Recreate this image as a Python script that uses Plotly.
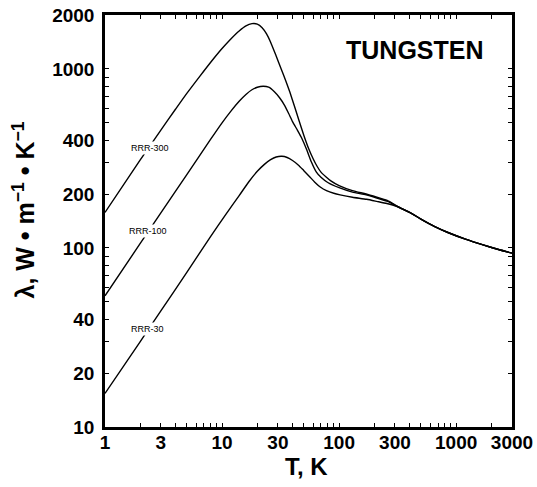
import plotly.graph_objects as go
import numpy as np

# Thermal conductivity of tungsten for three residual resistivity ratios
t_300 = [1, 2, 3, 4, 5, 6.5, 8, 10, 12, 14, 16, 18, 20, 22, 24, 26, 29, 32, 35, 38,
         41.5, 45, 50, 55, 60, 65, 70, 77, 85, 100, 130, 170, 210, 260, 310, 400, 500,
         650, 850, 1200, 1700, 2300, 3000]
k_300 = [158, 310, 455, 595, 730, 915, 1090, 1300, 1480, 1630, 1740, 1790, 1780, 1700,
         1570, 1410, 1180, 1000, 860, 740, 620, 525, 425, 358, 315, 285, 265, 250, 237,
         223, 209, 200, 192, 184, 172, 158, 145, 132, 122, 112, 104, 98, 93.5]

t_100 = [1, 2, 3, 5, 8, 10, 12, 14, 16, 18, 20, 22.5, 25, 28, 31, 34, 37, 40, 44, 48,
         53, 58, 64, 70, 80, 100, 130, 170, 210, 260, 310, 400, 500, 650, 850, 1200,
         1700, 2300, 3000]
k_100 = [54, 106, 157, 257, 405, 500, 585, 660, 720, 765, 790, 800, 790, 745, 690,
         630, 565, 508, 455, 410, 352, 302, 265, 248, 232, 217, 205, 198, 190, 182,
         171, 158, 145, 132, 122, 112, 104, 98, 93.5]

t_30 = [1, 2, 3, 5, 8, 11, 14, 17, 20, 23, 26, 29, 32.4, 36, 40, 45, 50, 56, 62, 69,
        78, 90, 102, 130, 172, 210, 256, 300, 340, 400, 500, 650, 850, 1200, 1700,
        2300, 3000]
k_30 = [15.4, 30, 44.5, 73, 116, 157, 196, 235, 268, 293, 311, 322, 325, 320, 308,
        290, 270, 250, 233, 219, 209, 202, 198, 192, 187, 182, 177, 172, 166, 158,
        145, 132, 122, 112, 104, 98, 93.5]

# name, T values, conductivity values, label position (T, conductivity)
series = [("RRR-300", t_300, k_300, 2.4, 362),
          ("RRR-100", t_100, k_100, 2.31, 125),
          ("RRR-30", t_30, k_30, 2.29, 35.3)]

x_labels = [1, 3, 10, 30, 100, 300, 1000, 3000]
y_labels = [10, 20, 40, 100, 200, 400, 1000, 2000]


def log_ticks(lo_exp, hi_exp, lo, hi, labelled):
    vals, text = [], []
    for e in range(lo_exp, hi_exp + 1):
        for d in range(1, 10):
            v = d * 10 ** e
            if lo <= v <= hi:
                vals.append(v)
                text.append(str(v) if v in labelled else "")
    return vals, text


xv, xt = log_ticks(0, 3, 1, 3000, x_labels)
yv, yt = log_ticks(1, 3, 10, 2000, y_labels)

FONT = "Liberation Sans, Arial, sans-serif"

fig = go.Figure()
for name, t, k, lx, ly in series:
    fig.add_trace(go.Scatter(x=t, y=k, mode="lines", name=name,
                             line=dict(color="black", width=1.4, shape="spline",
                                       smoothing=0.6)))
    fig.add_annotation(x=np.log10(lx), y=np.log10(ly), text=name, showarrow=False,
                       bgcolor="white", borderpad=1,
                       font=dict(family=FONT, size=9, color="black"))

fig.add_annotation(xref="paper", yref="paper", x=0.762, y=0.914, text="<b>TUNGSTEN</b>",
                   xanchor="center", yanchor="middle", showarrow=False,
                   font=dict(family=FONT, size=25, color="black"))

# axis titles
fig.add_annotation(xref="paper", yref="paper", x=-0.2, y=0.527,
                   text="<b>λ, W • m<sup>−1</sup> • K<sup>−1</sup></b>",
                   textangle=-90, xanchor="center", yanchor="middle", showarrow=False,
                   font=dict(family=FONT, size=25, color="black"))
fig.add_annotation(xref="paper", yref="paper", x=0.494, y=-0.095, text="<b>T, K</b>",
                   xanchor="center", yanchor="middle", showarrow=False,
                   font=dict(family=FONT, size=24, color="black"))

axis_common = dict(type="log", showgrid=False, zeroline=False, showline=True,
                   linecolor="black", linewidth=2.5, mirror="allticks",
                   ticks="inside", ticklen=4, tickwidth=1, tickcolor="black",
                   automargin=False,
                   tickfont=dict(family=FONT, size=19, color="black", weight="bold"))

fig.update_xaxes(range=[0, np.log10(3000)], tickmode="array", tickvals=xv, ticktext=xt,
                 ticklabelstandoff=-4, **axis_common)
fig.update_yaxes(range=[1, np.log10(2000)], tickmode="array", tickvals=yv, ticktext=yt,
                 ticklabelstandoff=4, **axis_common)

fig.update_layout(width=537, height=487, showlegend=False,
                  margin=dict(l=105, r=25, t=15, b=60),
                  plot_bgcolor="white", paper_bgcolor="white")

fig.write_html("out.html")
